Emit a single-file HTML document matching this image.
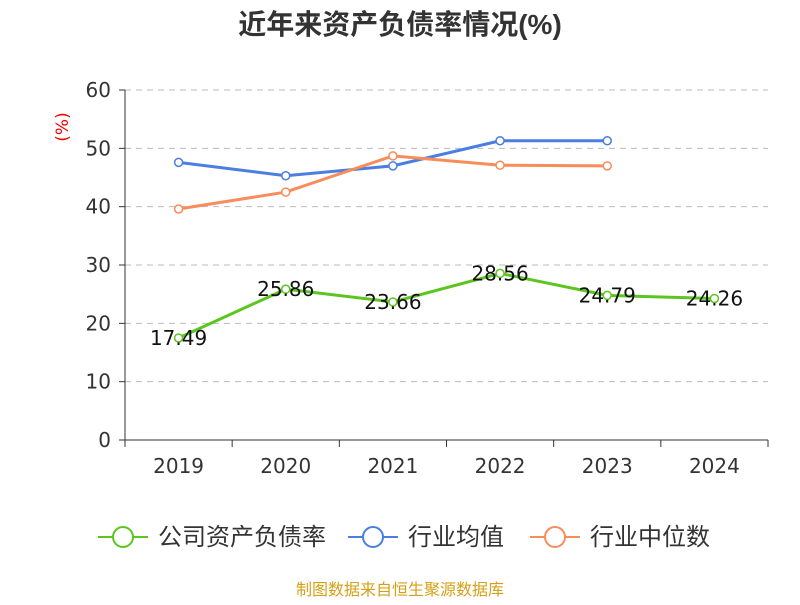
<!DOCTYPE html>
<html><head><meta charset="utf-8"><style>
body{margin:0;background:#fff;font-family:"Liberation Sans","Noto Sans CJK SC",sans-serif}
</style></head><body>
<svg id="c" width="800" height="600" xmlns="http://www.w3.org/2000/svg" font-family="Liberation Sans, Noto Sans CJK SC, sans-serif"></svg>
<script>
const categories=["2019","2020","2021","2022","2023","2024"];
const companyValues=[17.49,25.86,23.66,28.56,24.79,24.26];
const avgValues=[47.6,45.3,47.0,51.3,51.3,null];
const medianValues=[39.6,42.5,48.7,47.1,47.0,null];
const yTicks=[0,10,20,30,40,50,60];
const NS="http://www.w3.org/2000/svg";
const svg=document.getElementById('c');
const L=125,R=768,T=90,B=440,yMax=60;
const NUMF="DejaVu Sans, Liberation Sans, sans-serif";
const bw=(R-L)/categories.length;
const x=i=>L+bw*(i+0.5);
const y=v=>B-(v/yMax)*(B-T);
function el(t,a,txt){const e=document.createElementNS(NS,t);for(const k in a)e.setAttribute(k,a[k]);if(txt!=null)e.textContent=txt;svg.appendChild(e);return e;}
let e=el('text',{x:400,y:34,'text-anchor':'middle','font-size':28,'font-weight':'bold',fill:'#333'},'近年来资产负债率情况(%)');

e=el('text',{x:0,y:0,'font-size':17,fill:'#e00','text-anchor':'middle','font-family':NUMF,transform:'translate(68,127) rotate(-90)'},'(%)');

yTicks.forEach(t=>{
  if(t>0){const g=el('line',{x1:L,x2:R,y1:y(t),y2:y(t),stroke:'#bbb','stroke-dasharray':'6,5'});}
  const tk=el('line',{x1:L-6,x2:L,y1:y(t),y2:y(t),stroke:'#333'});
  const lb=el('text',{x:L-14,y:y(t)+7,'text-anchor':'end','font-size':20,fill:'#333','font-family':NUMF},t);
  
});
e=el('line',{x1:L,x2:L,y1:T,y2:B,stroke:'#333'});
e=el('line',{x1:L,x2:R,y1:B,y2:B,stroke:'#333'});
for(let i=0;i<=categories.length;i++){const t=el('line',{x1:L+bw*i,x2:L+bw*i,y1:B,y2:B+7,stroke:'#333'});}
categories.forEach((c,i)=>{const t=el('text',{x:x(i),y:473,'text-anchor':'middle','font-size':20,fill:'#333','font-family':NUMF},c);});
function series(vals,color,name,labels){
  const pts=[];vals.forEach((v,i)=>{if(v!=null)pts.push([x(i),y(v)]);});
  const p=el('polyline',{points:pts.map(p=>p.join(',')).join(' '),fill:'none',stroke:color,'stroke-width':3});
  
  vals.forEach((v,i)=>{if(v==null)return;
    const c=el('circle',{cx:x(i),cy:y(v),r:4,fill:'#fff',stroke:color,'stroke-width':1.5});
    
    if(labels){const t=el('text',{x:x(i),y:y(v)+7,'text-anchor':'middle','font-size':20,fill:'#111','font-family':NUMF},v.toFixed(2));
      }
  });
}
series(avgValues,'#4a7ee0','industry-average',false);
series(medianValues,'#f98c5b','industry-median',false);
series(companyValues,'#5cc51f','company',true);
const leg=[['公司资产负债率','#5cc51f',98],['行业均值','#4a7ee0',348],['行业中位数','#f98c5b',530]];
leg.forEach(([n,c,lx])=>{
  const g=el('line',{x1:lx,x2:lx+50,y1:537,y2:537,stroke:c,'stroke-width':2});
  const ci=el('circle',{cx:lx+25,cy:537,r:10,fill:'#fff',stroke:c,'stroke-width':2});
  const t=el('text',{x:lx+60,y:545,'font-size':24,fill:'#333'},n);
});
e=el('text',{x:400,y:595,'text-anchor':'middle','font-size':16,fill:'#d4a017'},'制图数据来自恒生聚源数据库');

</script>
</body></html>
